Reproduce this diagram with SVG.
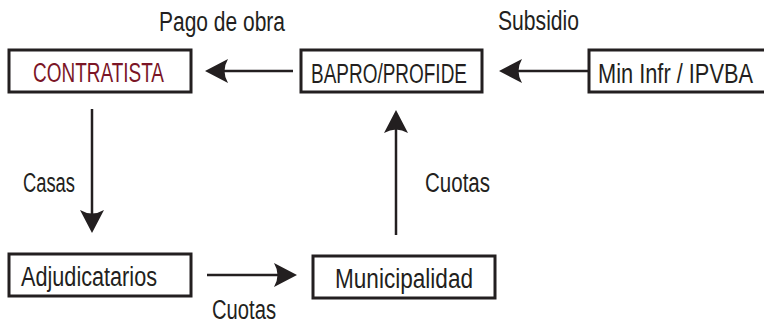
<svg xmlns="http://www.w3.org/2000/svg" width="764" height="324" viewBox="0 0 764 324">
  <style>
    .box { fill: #ffffff; stroke: #231f20; stroke-width: 3; }
    .lbl { font-family: "Liberation Sans", Arial, sans-serif; font-size: 27px; fill: #231f20; }
    .red { fill: #7b1526; }
    .conn { stroke: #231f20; stroke-width: 2.5; fill: none; marker-end: url(#arrow); }
  </style>
  <defs>
    <marker id="arrow" viewBox="-14 -13 25 26" refX="0" refY="0" markerWidth="25" markerHeight="26" markerUnits="userSpaceOnUse" orient="auto">
      <path d="M10,0 L-13,-12 Q-6,0 -13,12 Z" fill="#231f20"/>
    </marker>
  </defs>
  <rect width="764" height="324" fill="#ffffff"/>

  <g id="connectors">
    <line class="conn" x1="293" y1="71" x2="215" y2="71"/>
    <line class="conn" x1="588" y1="71" x2="509" y2="71"/>
    <line class="conn" x1="92" y1="109" x2="92" y2="223"/>
    <line class="conn" x1="207" y1="275" x2="287" y2="275"/>
    <line class="conn" x1="396" y1="235" x2="396" y2="120"/>
    <text class="lbl" x="159" y="31" textLength="126" lengthAdjust="spacingAndGlyphs">Pago de obra</text>
    <text class="lbl" x="498" y="30" textLength="81" lengthAdjust="spacingAndGlyphs">Subsidio</text>
    <text class="lbl" x="23" y="192" textLength="52" lengthAdjust="spacingAndGlyphs">Casas</text>
    <text class="lbl" x="425" y="192" textLength="65" lengthAdjust="spacingAndGlyphs">Cuotas</text>
    <text class="lbl" x="212" y="319" textLength="64" lengthAdjust="spacingAndGlyphs">Cuotas</text>
  </g>

  <g id="contratista">
    <rect class="box" x="9" y="50" width="182" height="42"/>
    <text class="lbl red" x="33" y="82" textLength="131" lengthAdjust="spacingAndGlyphs">CONTRATISTA</text>
  </g>
  <g id="bapro">
    <rect class="box" x="301" y="50" width="181" height="42"/>
    <text class="lbl" x="311" y="83" textLength="156" lengthAdjust="spacingAndGlyphs">BAPRO/PROFIDE</text>
  </g>
  <g id="mininfr">
    <rect class="box" x="589" y="50" width="190" height="42"/>
    <text class="lbl" x="598" y="83" textLength="155" lengthAdjust="spacingAndGlyphs">Min Infr / IPVBA</text>
  </g>
  <g id="adjudicatarios">
    <rect class="box" x="9" y="254" width="182" height="42"/>
    <text class="lbl" x="21" y="286" textLength="136" lengthAdjust="spacingAndGlyphs">Adjudicatarios</text>
  </g>
  <g id="municipalidad">
    <rect class="box" x="313" y="256" width="182" height="42"/>
    <text class="lbl" x="335" y="288" textLength="138" lengthAdjust="spacingAndGlyphs">Municipalidad</text>
  </g>
</svg>
